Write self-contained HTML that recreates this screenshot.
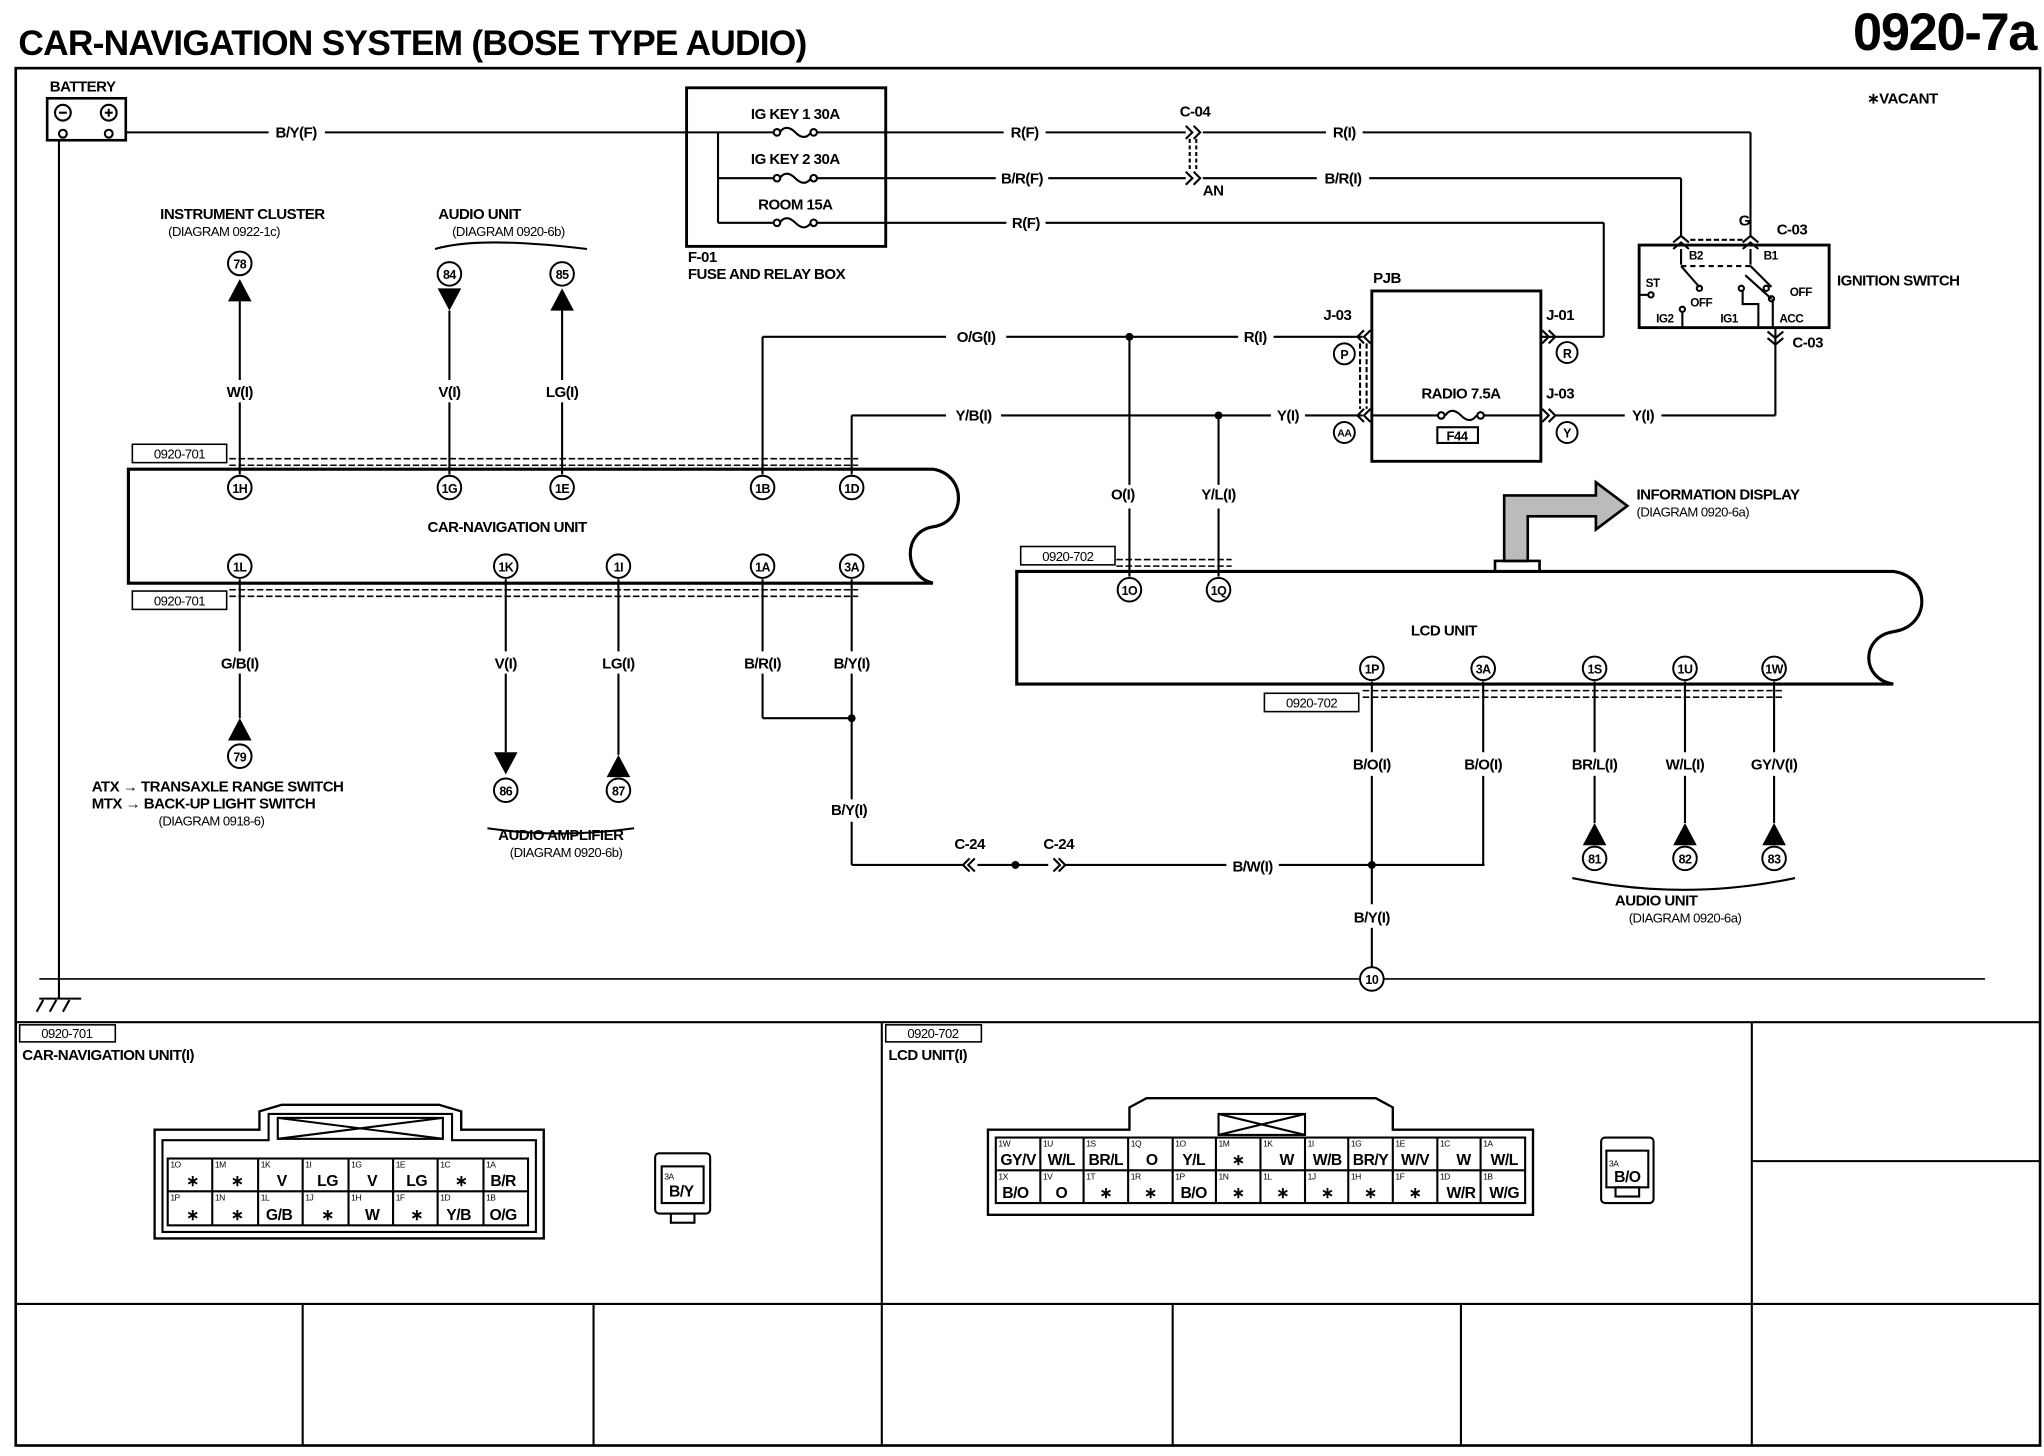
<!DOCTYPE html>
<html><head><meta charset="utf-8"><style>
html,body{margin:0;padding:0;background:#fff}
svg{display:block}
text{font-family:"Liberation Sans",Arial,sans-serif;font-weight:bold;fill:#000;font-size:11.5px;letter-spacing:-0.4px}
.s{font-size:10px;font-weight:normal}
.c{text-anchor:middle}
.p{font-size:9.5px;text-anchor:middle}
.t{font-size:6.5px;font-weight:normal}
.v{font-size:12px;text-anchor:middle}
</style></head><body>
<svg width="2044" height="1456" viewBox="0 0 1560 1111" preserveAspectRatio="none" xmlns="http://www.w3.org/2000/svg">
<g fill="none" stroke="#000" stroke-width="1.6">
<rect x="12" y="52" width="1545" height="1051" stroke-width="2"/>
<line x1="12" y1="780" x2="1557" y2="780"/>
<line x1="12" y1="995" x2="1557" y2="995"/>
<line x1="673" y1="780" x2="673" y2="1103"/>
<line x1="1337" y1="780" x2="1337" y2="1103"/>
<line x1="1337" y1="886" x2="1557" y2="886"/>
<line x1="231" y1="995" x2="231" y2="1103"/><line x1="453" y1="995" x2="453" y2="1103"/>
<line x1="895" y1="995" x2="895" y2="1103"/><line x1="1115" y1="995" x2="1115" y2="1103"/>
<rect x="36" y="75" width="60" height="32" stroke-width="2"/>
<circle cx="48" cy="86" r="6"/><circle cx="83" cy="86" r="6"/>
<line x1="45" y1="86" x2="51" y2="86"/><line x1="80" y1="86" x2="86" y2="86"/><line x1="83" y1="83" x2="83" y2="89"/>
<circle cx="48" cy="102" r="3"/><circle cx="83" cy="102" r="3"/>
<line x1="96" y1="101" x2="205" y2="101"/><line x1="248" y1="101" x2="524" y2="101"/>
<line x1="45" y1="107" x2="45" y2="762"/>
<line x1="30" y1="762" x2="62" y2="762"/>
<line x1="28" y1="772" x2="33" y2="763"/><line x1="38" y1="772" x2="43" y2="763"/><line x1="48" y1="772" x2="53" y2="763"/>
<line x1="30" y1="747" x2="1515" y2="747" stroke-width="1.2"/>
<rect x="524" y="67" width="152" height="121" stroke-width="2.2"/>
<line x1="548" y1="101" x2="548" y2="170"/>
<line x1="524" y1="101" x2="590" y2="101"/><line x1="624" y1="101" x2="676" y2="101"/>
<line x1="548" y1="136" x2="590" y2="136"/><line x1="624" y1="136" x2="676" y2="136"/>
<line x1="548" y1="170" x2="590" y2="170"/><line x1="624" y1="170" x2="676" y2="170"/>
<path d="M595,101 q5,-7 12,0 q7,7 12,0 M595,136 q5,-7 12,0 q7,7 12,0 M595,170 q5,-7 12,0 q7,7 12,0"/>
<circle cx="593" cy="101" r="2.5"/><circle cx="621" cy="101" r="2.5"/><circle cx="593" cy="136" r="2.5"/><circle cx="621" cy="136" r="2.5"/><circle cx="593" cy="170" r="2.5"/><circle cx="621" cy="170" r="2.5"/>
<line x1="676" y1="101" x2="766" y2="101"/><line x1="798" y1="101" x2="905" y2="101"/><line x1="918" y1="101" x2="1012" y2="101"/><line x1="1040" y1="101" x2="1336" y2="101"/>
<line x1="1336" y1="101" x2="1336" y2="180"/>
<line x1="676" y1="136" x2="760" y2="136"/><line x1="800" y1="136" x2="905" y2="136"/><line x1="918" y1="136" x2="1005" y2="136"/><line x1="1045" y1="136" x2="1283" y2="136"/>
<line x1="1283" y1="136" x2="1283" y2="180"/>
<path d="M905,96 l5,5 l-5,5 M911,96 l5,5 l-5,5 M905,131 l5,5 l-5,5 M911,131 l5,5 l-5,5"/>
<line x1="913" y1="106" x2="913" y2="131" stroke-dasharray="3,2"/><line x1="908" y1="106" x2="908" y2="131" stroke-dasharray="3,2"/>
<line x1="676" y1="170" x2="768" y2="170"/><line x1="798" y1="170" x2="1224" y2="170"/>
<line x1="1224" y1="170" x2="1224" y2="257"/><line x1="1176" y1="257" x2="1224" y2="257"/>
<rect x="1251" y="187" width="145" height="63" stroke-width="2.2"/>
<path d="M1277,185 l6,-5 l6,5 M1277,190 l6,-5 l6,5 M1330,185 l6,-5 l6,5 M1330,190 l6,-5 l6,5"/>
<line x1="1290" y1="183" x2="1330" y2="183" stroke-dasharray="4,2"/>
<line x1="1283" y1="190" x2="1283" y2="202"/><line x1="1336" y1="190" x2="1336" y2="202"/>
<line x1="1283" y1="203" x2="1297" y2="219"/><line x1="1336" y1="203" x2="1352" y2="219"/>
<line x1="1283" y1="203" x2="1336" y2="203" stroke-dasharray="4,3"/>
<line x1="1332" y1="210" x2="1352" y2="228"/>
<line x1="1353" y1="228" x2="1353" y2="250"/>
<line x1="1251" y1="225" x2="1258" y2="225"/>
<circle cx="1260" cy="225" r="2"/><circle cx="1297" cy="220" r="2"/><circle cx="1329" cy="220" r="2"/><circle cx="1352" cy="228" r="2"/><circle cx="1284" cy="236" r="2"/><circle cx="1348" cy="220" r="2"/>
<line x1="1284" y1="238" x2="1284" y2="250"/>
<path d="M1330,222 v10 h12 v18"/>
<line x1="1355" y1="250" x2="1355" y2="317"/>
<path d="M1349,253 l6,5 l6,-5 M1349,258 l6,5 l6,-5"/>
<rect x="1047" y="222" width="129" height="130" stroke-width="2.2"/>
<line x1="582" y1="257" x2="582" y2="362"/><line x1="582" y1="257" x2="722" y2="257"/><line x1="768" y1="257" x2="945" y2="257"/><line x1="972" y1="257" x2="1040" y2="257"/>
<line x1="650" y1="317" x2="650" y2="362"/><line x1="650" y1="317" x2="722" y2="317"/><line x1="764" y1="317" x2="970" y2="317"/><line x1="996" y1="317" x2="1040" y2="317"/>
<path d="M1046,252 l-5,5 l5,5 M1041,252 l-5,5 l5,5 M1046,312 l-5,5 l5,5 M1041,312 l-5,5 l5,5"/>
<line x1="1043" y1="262" x2="1043" y2="312" stroke-dasharray="4,2"/><line x1="1038" y1="262" x2="1038" y2="312" stroke-dasharray="4,2"/>
<path d="M1177,252 l5,5 l-5,5 M1182,252 l5,5 l-5,5 M1177,312 l5,5 l-5,5 M1182,312 l5,5 l-5,5"/>
<line x1="1047" y1="317" x2="1098" y2="317"/><line x1="1132" y1="317" x2="1176" y2="317"/>
<path d="M1103,317 q5,-7 12,0 q7,7 12,0"/>
<circle cx="1100" cy="317" r="2.5"/><circle cx="1130" cy="317" r="2.5"/>
<rect x="1097" y="326" width="31" height="12"/>
<line x1="1187" y1="317" x2="1240" y2="317"/><line x1="1268" y1="317" x2="1355" y2="317"/>
<line x1="862" y1="257" x2="862" y2="370"/><line x1="862" y1="388" x2="862" y2="440"/>
<line x1="930" y1="317" x2="930" y2="370"/><line x1="930" y1="388" x2="930" y2="440"/>
<path d="M98,358 H712 C738,362 738,398 712,402 C688,406 690,440 712,445 H98 Z" stroke-width="2.4"/>
<rect x="101" y="339" width="72" height="14" stroke-width="1.2"/>
<rect x="101" y="451" width="72" height="14" stroke-width="1.2"/>
<line x1="175" y1="350" x2="655" y2="350" stroke-dasharray="5,2" stroke-width="1.2"/>
<line x1="175" y1="355" x2="655" y2="355" stroke-dasharray="5,2" stroke-width="1.2"/>
<line x1="175" y1="450" x2="655" y2="450" stroke-dasharray="5,2" stroke-width="1.2"/>
<line x1="175" y1="455" x2="655" y2="455" stroke-dasharray="5,2" stroke-width="1.2"/>
<line x1="183" y1="230" x2="183" y2="290"/><line x1="183" y1="307" x2="183" y2="362"/>
<line x1="343" y1="237" x2="343" y2="290"/><line x1="343" y1="307" x2="343" y2="362"/>
<line x1="429" y1="237" x2="429" y2="290"/><line x1="429" y1="307" x2="429" y2="362"/>
<path d="M332,190 q34,-10 116,0"/>
<line x1="183" y1="442" x2="183" y2="497"/><line x1="183" y1="514" x2="183" y2="548"/>
<line x1="386" y1="442" x2="386" y2="497"/><line x1="386" y1="514" x2="386" y2="574"/>
<line x1="472" y1="442" x2="472" y2="497"/><line x1="472" y1="514" x2="472" y2="576"/>
<line x1="582" y1="442" x2="582" y2="497"/><line x1="582" y1="514" x2="582" y2="548"/><line x1="582" y1="548" x2="650" y2="548"/>
<line x1="650" y1="442" x2="650" y2="497"/><line x1="650" y1="514" x2="650" y2="610"/><line x1="650" y1="627" x2="650" y2="660"/>
<line x1="650" y1="660" x2="736" y2="660"/><line x1="746" y1="660" x2="800" y2="660"/><line x1="812" y1="660" x2="936" y2="660"/><line x1="976" y1="660" x2="1133" y2="660"/>
<path d="M744,655 l-5,5 l5,5 M740,655 l-5,5 l5,5 M804,655 l5,5 l-5,5 M808,655 l5,5 l-5,5"/>
<path d="M372,632 q56,8 112,0"/>
<path d="M776,436 H1445 C1474,440 1474,478 1445,482 C1420,486 1420,518 1445,522 H776 Z" stroke-width="2.4"/>
<rect x="779" y="417" width="72" height="14" stroke-width="1.2"/>
<rect x="965" y="529" width="72" height="14" stroke-width="1.2"/>
<line x1="852" y1="427" x2="940" y2="427" stroke-dasharray="5,2" stroke-width="1.2"/>
<line x1="852" y1="432" x2="940" y2="432" stroke-dasharray="5,2" stroke-width="1.2"/>
<line x1="1040" y1="527" x2="1360" y2="527" stroke-dasharray="5,2" stroke-width="1.2"/>
<line x1="1040" y1="532" x2="1360" y2="532" stroke-dasharray="5,2" stroke-width="1.2"/>
<line x1="1047" y1="520" x2="1047" y2="574"/><line x1="1047" y1="592" x2="1047" y2="690"/><line x1="1047" y1="708" x2="1047" y2="738"/>
<line x1="1132" y1="520" x2="1132" y2="574"/><line x1="1132" y1="592" x2="1132" y2="660"/>
<line x1="1217" y1="520" x2="1217" y2="574"/><line x1="1217" y1="592" x2="1217" y2="628"/>
<line x1="1286" y1="520" x2="1286" y2="574"/><line x1="1286" y1="592" x2="1286" y2="628"/>
<line x1="1354" y1="520" x2="1354" y2="574"/><line x1="1354" y1="592" x2="1354" y2="628"/>
<path d="M1200,670 q85,18 170,0"/>
<rect x="1141" y="428" width="34" height="8" stroke-width="2"/>
<path d="M1148,428 V378 H1218 V368 L1242,386 L1218,404 V394 H1166 V428 Z" fill="#bbb" stroke-width="2"/>
<rect x="15" y="782" width="73" height="13" stroke-width="1.2"/>
<rect x="676" y="782" width="73" height="13" stroke-width="1.2"/>
<path d="M118,862 H198 V848 L215,843 H335 L352,848 V862 H415 V945 H118 Z" stroke-width="1.8"/>
<path d="M124,870 H205 V850 H345 V870 H409 V940 H124 Z"/>
<rect x="212" y="853" width="126" height="16"/>
<path d="M212,853 L338,869 M212,869 L338,853"/>
<rect x="128" y="884" width="275" height="51"/>
<line x1="128" y1="909" x2="403" y2="909"/>
<path d="M162,884 v51 M197,884 v51 M231,884 v51 M266,884 v51 M300,884 v51 M334,884 v51 M369,884 v51"/>
<rect x="500" y="880" width="42" height="46" rx="3"/><rect x="505" y="890" width="32" height="28"/><rect x="512" y="926" width="18" height="7"/>
<path d="M754,862 H862 V845 L875,838 H1050 L1063,845 V862 H1170 V927 H754 Z" stroke-width="1.8"/>
<rect x="930" y="850" width="66" height="16"/><path d="M930,850 L996,866 M930,866 L996,850"/>
<rect x="760" y="868" width="404" height="50"/>
<line x1="760" y1="893" x2="1164" y2="893"/>
<path d="M794,868 v50 M827,868 v50 M861,868 v50 M895,868 v50 M928,868 v50 M962,868 v50 M996,868 v50 M1029,868 v50 M1063,868 v50 M1097,868 v50 M1130,868 v50"/>
<rect x="1222" y="868" width="40" height="50" rx="3"/><rect x="1226" y="878" width="32" height="28"/><rect x="1233" y="906" width="18" height="7"/>
</g>
<g fill="#000">
<polygon points="174,230 192,230 183,213"/>
<polygon points="334,220 352,220 343,237"/>
<polygon points="420,237 438,237 429,220"/>
<polygon points="174,565 192,565 183,548"/>
<polygon points="377,574 395,574 386,591"/>
<polygon points="463,593 481,593 472,576"/>
<polygon points="1208,645 1226,645 1217,628"/>
<polygon points="1277,645 1295,645 1286,628"/>
<polygon points="1345,645 1363,645 1354,628"/>
<circle cx="862" cy="257" r="3"/><circle cx="930" cy="317" r="3"/><circle cx="650" cy="548" r="3"/><circle cx="775" cy="660" r="3"/><circle cx="1047" cy="660" r="3"/>
</g>
<g fill="#fff" stroke="#000" stroke-width="1.5">
<circle cx="183" cy="201" r="9"/><circle cx="343" cy="209" r="9"/><circle cx="429" cy="209" r="9"/>
<circle cx="183" cy="577" r="9"/><circle cx="386" cy="603" r="9"/><circle cx="472" cy="603" r="9"/>
<circle cx="183" cy="372" r="9"/><circle cx="343" cy="372" r="9"/><circle cx="429" cy="372" r="9"/><circle cx="582" cy="372" r="9"/><circle cx="650" cy="372" r="9"/>
<circle cx="183" cy="432" r="9"/><circle cx="386" cy="432" r="9"/><circle cx="472" cy="432" r="9"/><circle cx="582" cy="432" r="9"/><circle cx="650" cy="432" r="9"/>
<circle cx="862" cy="450" r="9"/><circle cx="930" cy="450" r="9"/>
<circle cx="1047" cy="510" r="9"/><circle cx="1132" cy="510" r="9"/><circle cx="1217" cy="510" r="9"/><circle cx="1286" cy="510" r="9"/><circle cx="1354" cy="510" r="9"/>
<circle cx="1217" cy="655" r="9"/><circle cx="1286" cy="655" r="9"/><circle cx="1354" cy="655" r="9"/>
<circle cx="1047" cy="747" r="9"/>
<circle cx="1026" cy="270" r="8"/><circle cx="1026" cy="330" r="8"/><circle cx="1196" cy="269" r="8"/><circle cx="1196" cy="330" r="8"/>
</g>
<text x="14" y="42" style="font-size:27px;letter-spacing:-0.6px">CAR-NAVIGATION SYSTEM (BOSE TYPE AUDIO)</text>
<text x="1554" y="38" style="font-size:40px;text-anchor:end;letter-spacing:-1px">0920-7a</text>
<text x="38" y="70">BATTERY</text>
<text x="226" y="105" class="c">B/Y(F)</text>
<text x="607" y="91" class="c">IG KEY 1 30A</text>
<text x="607" y="125" class="c">IG KEY 2 30A</text>
<text x="607" y="160" class="c">ROOM 15A</text>
<text x="525" y="200">F-01</text>
<text x="525" y="213">FUSE AND RELAY BOX</text>
<text x="782" y="105" class="c">R(F)</text>
<text x="780" y="140" class="c">B/R(F)</text>
<text x="783" y="174" class="c">R(F)</text>
<text x="912" y="89" class="c">C-04</text>
<text x="918" y="149">AN</text>
<text x="1026" y="105" class="c">R(I)</text>
<text x="1025" y="140" class="c">B/R(I)</text>
<text x="1425" y="79">∗VACANT</text>
<text x="1327" y="172">G</text>
<text x="1356" y="179">C-03</text>
<text x="1289" y="198" style="font-size:9px">B2</text>
<text x="1346" y="198" style="font-size:9px">B1</text>
<text x="1256" y="219" style="font-size:9px">ST</text>
<text x="1290" y="234" style="font-size:9px">OFF</text>
<text x="1366" y="226" style="font-size:9px">OFF</text>
<text x="1264" y="246" style="font-size:9px">IG2</text>
<text x="1313" y="246" style="font-size:9px">IG1</text>
<text x="1358" y="246" style="font-size:9px">ACC</text>
<text x="1402" y="218">IGNITION SWITCH</text>
<text x="1368" y="265">C-03</text>
<text x="1048" y="216">PJB</text>
<text x="1010" y="244">J-03</text>
<text x="1180" y="244">J-01</text>
<text x="1180" y="304">J-03</text>
<text x="1115" y="304" class="c">RADIO 7.5A</text>
<text x="1112" y="336" class="c" style="font-size:10px">F44</text>
<text x="1026" y="274" class="p">P</text>
<text x="1026" y="333" class="p" style="font-size:8px">AA</text>
<text x="1196" y="273" class="p">R</text>
<text x="1196" y="334" class="p">Y</text>
<text x="745" y="261" class="c">O/G(I)</text>
<text x="958" y="261" class="c">R(I)</text>
<text x="743" y="321" class="c">Y/B(I)</text>
<text x="983" y="321" class="c">Y(I)</text>
<text x="1254" y="321" class="c">Y(I)</text>
<text x="185" y="167" class="c">INSTRUMENT CLUSTER</text>
<text x="171" y="180" class="c s">(DIAGRAM 0922-1c)</text>
<text x="366" y="167" class="c">AUDIO UNIT</text>
<text x="388" y="180" class="c s">(DIAGRAM 0920-6b)</text>
<text x="183" y="205" class="p">78</text><text x="343" y="213" class="p">84</text><text x="429" y="213" class="p">85</text>
<text x="183" y="303" class="c">W(I)</text><text x="343" y="303" class="c">V(I)</text><text x="429" y="303" class="c">LG(I)</text>
<text x="137" y="350" class="s c">0920-701</text><text x="137" y="462" class="s c">0920-701</text>
<text x="183" y="376" class="p">1H</text><text x="343" y="376" class="p">1G</text><text x="429" y="376" class="p">1E</text><text x="582" y="376" class="p">1B</text><text x="650" y="376" class="p">1D</text>
<text x="183" y="436" class="p">1L</text><text x="386" y="436" class="p">1K</text><text x="472" y="436" class="p">1I</text><text x="582" y="436" class="p">1A</text><text x="650" y="436" class="p">3A</text>
<text x="387" y="406" class="c">CAR-NAVIGATION UNIT</text>
<text x="183" y="510" class="c">G/B(I)</text><text x="386" y="510" class="c">V(I)</text><text x="472" y="510" class="c">LG(I)</text><text x="582" y="510" class="c">B/R(I)</text><text x="650" y="510" class="c">B/Y(I)</text>
<text x="648" y="622" class="c">B/Y(I)</text>
<text x="183" y="581" class="p">79</text><text x="386" y="607" class="p">86</text><text x="472" y="607" class="p">87</text>
<text x="70" y="604">ATX → TRANSAXLE RANGE SWITCH</text>
<text x="70" y="617">MTX → BACK-UP LIGHT SWITCH</text>
<text x="121" y="630" class="s">(DIAGRAM 0918-6)</text>
<text x="428" y="641" class="c">AUDIO AMPLIFIER</text>
<text x="432" y="654" class="c s">(DIAGRAM 0920-6b)</text>
<text x="740" y="648" class="c">C-24</text><text x="808" y="648" class="c">C-24</text>
<text x="956" y="665" class="c">B/W(I)</text>
<text x="857" y="381" class="c">O(I)</text><text x="930" y="381" class="c">Y/L(I)</text>
<text x="815" y="428" class="s c">0920-702</text><text x="1001" y="540" class="s c">0920-702</text>
<text x="862" y="454" class="p">1O</text><text x="930" y="454" class="p">1Q</text>
<text x="1102" y="485" class="c">LCD UNIT</text>
<text x="1249" y="381">INFORMATION DISPLAY</text>
<text x="1249" y="394" class="s">(DIAGRAM 0920-6a)</text>
<text x="1047" y="514" class="p">1P</text><text x="1132" y="514" class="p">3A</text><text x="1217" y="514" class="p">1S</text><text x="1286" y="514" class="p">1U</text><text x="1354" y="514" class="p">1W</text>
<text x="1047" y="587" class="c">B/O(I)</text><text x="1132" y="587" class="c">B/O(I)</text><text x="1217" y="587" class="c">BR/L(I)</text><text x="1286" y="587" class="c">W/L(I)</text><text x="1354" y="587" class="c">GY/V(I)</text>
<text x="1217" y="659" class="p">81</text><text x="1286" y="659" class="p">82</text><text x="1354" y="659" class="p">83</text>
<text x="1264" y="691" class="c">AUDIO UNIT</text>
<text x="1286" y="704" class="c s">(DIAGRAM 0920-6a)</text>
<text x="1047" y="704" class="c">B/Y(I)</text>
<text x="1047" y="751" class="p">10</text>
<text x="51" y="792" class="s c">0920-701</text>
<text x="17" y="809">CAR-NAVIGATION UNIT(I)</text>
<text x="712" y="792" class="s c">0920-702</text>
<text x="678" y="809">LCD UNIT(I)</text>
<text x="130" y="891" class="t">1O</text><text x="164" y="891" class="t">1M</text><text x="199" y="891" class="t">1K</text><text x="233" y="891" class="t">1I</text><text x="268" y="891" class="t">1G</text><text x="302" y="891" class="t">1E</text><text x="336" y="891" class="t">1C</text><text x="371" y="891" class="t">1A</text>
<text x="130" y="916" class="t">1P</text><text x="164" y="916" class="t">1N</text><text x="199" y="916" class="t">1L</text><text x="233" y="916" class="t">1J</text><text x="268" y="916" class="t">1H</text><text x="302" y="916" class="t">1F</text><text x="336" y="916" class="t">1D</text><text x="371" y="916" class="t">1B</text>
<text x="147" y="905" class="v">∗</text><text x="181" y="905" class="v">∗</text><text x="215" y="905" class="v">V</text><text x="250" y="905" class="v">LG</text><text x="284" y="905" class="v">V</text><text x="318" y="905" class="v">LG</text><text x="352" y="905" class="v">∗</text><text x="384" y="905" class="v">B/R</text>
<text x="147" y="931" class="v">∗</text><text x="181" y="931" class="v">∗</text><text x="213" y="931" class="v">G/B</text><text x="250" y="931" class="v">∗</text><text x="284" y="931" class="v">W</text><text x="318" y="931" class="v">∗</text><text x="350" y="931" class="v">Y/B</text><text x="384" y="931" class="v">O/G</text>
<text x="507" y="900" class="t">3A</text><text x="520" y="913" class="v">B/Y</text>
<text x="762" y="875" class="t">1W</text><text x="796" y="875" class="t">1U</text><text x="829" y="875" class="t">1S</text><text x="863" y="875" class="t">1Q</text><text x="897" y="875" class="t">1O</text><text x="930" y="875" class="t">1M</text><text x="964" y="875" class="t">1K</text><text x="998" y="875" class="t">1I</text><text x="1031" y="875" class="t">1G</text><text x="1065" y="875" class="t">1E</text><text x="1099" y="875" class="t">1C</text><text x="1132" y="875" class="t">1A</text>
<text x="762" y="900" class="t">1X</text><text x="796" y="900" class="t">1V</text><text x="829" y="900" class="t">1T</text><text x="863" y="900" class="t">1R</text><text x="897" y="900" class="t">1P</text><text x="930" y="900" class="t">1N</text><text x="964" y="900" class="t">1L</text><text x="998" y="900" class="t">1J</text><text x="1031" y="900" class="t">1H</text><text x="1065" y="900" class="t">1F</text><text x="1099" y="900" class="t">1D</text><text x="1132" y="900" class="t">1B</text>
<text x="777" y="889" class="v">GY/V</text><text x="810" y="889" class="v">W/L</text><text x="844" y="889" class="v">BR/L</text><text x="879" y="889" class="v">O</text><text x="911" y="889" class="v">Y/L</text><text x="945" y="889" class="v">∗</text><text x="982" y="889" class="v">W</text><text x="1013" y="889" class="v">W/B</text><text x="1046" y="889" class="v">BR/Y</text><text x="1080" y="889" class="v">W/V</text><text x="1117" y="889" class="v">W</text><text x="1148" y="889" class="v">W/L</text>
<text x="775" y="914" class="v">B/O</text><text x="810" y="914" class="v">O</text><text x="844" y="914" class="v">∗</text><text x="878" y="914" class="v">∗</text><text x="911" y="914" class="v">B/O</text><text x="945" y="914" class="v">∗</text><text x="979" y="914" class="v">∗</text><text x="1013" y="914" class="v">∗</text><text x="1046" y="914" class="v">∗</text><text x="1080" y="914" class="v">∗</text><text x="1115" y="914" class="v">W/R</text><text x="1148" y="914" class="v">W/G</text>
<text x="1228" y="890" class="t">3A</text><text x="1242" y="902" class="v">B/O</text>
</svg>
</body></html>
